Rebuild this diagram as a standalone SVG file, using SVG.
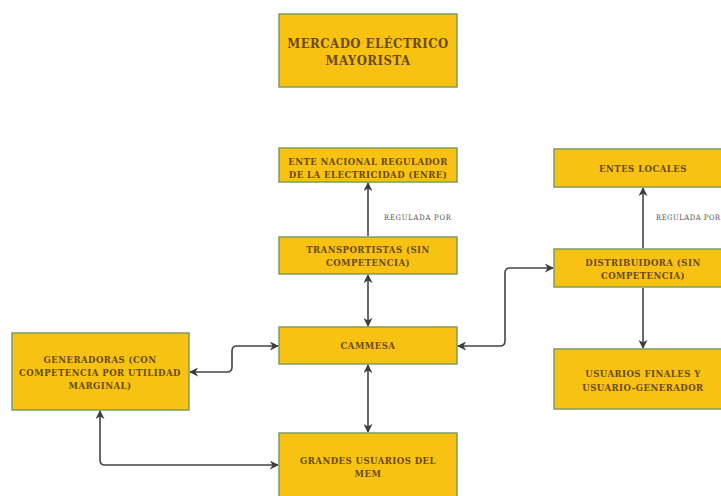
<svg xmlns="http://www.w3.org/2000/svg" width="721" height="496" viewBox="0 0 721 496">
<defs>
<marker id="ah" viewBox="0 0 10 10" refX="9" refY="5" markerWidth="9" markerHeight="9" markerUnits="userSpaceOnUse" orient="auto-start-reverse">
<path d="M0,0 L10,5 L0,10 L3,5 z" fill="#3d3d3d"/>
</marker>
<style>
.box{fill:#f7c212;stroke:#7d9c5c;stroke-width:1.5}
.t{font-family:"DejaVu Serif Condensed","DejaVu Serif",serif;font-weight:bold;fill:#6b4a16;text-anchor:middle;font-size:9.5px;letter-spacing:0.45px}
.tt{font-size:13px;letter-spacing:0.5px}
.c{fill:none;stroke:#444;stroke-width:1.6;marker-end:url(#ah)}
.b{marker-start:url(#ah)}
.lbl{font-family:"DejaVu Serif Condensed","DejaVu Serif",serif;fill:#555;font-size:7.5px;letter-spacing:0.8px}
</style>
</defs>
<rect width="721" height="496" fill="#ffffff"/>
<g id="connectors">
<path class="c" d="M368,236 V183"/>
<path class="c b" d="M368,275 V326"/>
<path class="c b" d="M368,365 V432"/>
<path class="c b" d="M190,372 H227 Q232,372 232,367 V351 Q232,346 237,346 H278"/>
<path class="c b" d="M100,411 V460 Q100,465 105,465 H278"/>
<path class="c b" d="M458,346 H500 Q505,346 505,341 V273 Q505,268 510,268 H553"/>
<path class="c" d="M643,248 V188"/>
<path class="c" d="M643,288 V348"/>
<text class="lbl" x="384" y="220">REGULADA POR</text>
<text class="lbl" x="656" y="220" style="letter-spacing:0.55px">REGULADA POR</text>
</g>
<g id="mercado">
<rect class="box" x="279" y="14" width="178" height="73"/>
<text class="t tt" x="368" y="48">MERCADO ELÉCTRICO</text>
<text class="t tt" x="368" y="65">MAYORISTA</text>
</g>
<g id="enre">
<rect class="box" x="279" y="148" width="178" height="34"/>
<text class="t" x="368" y="165">ENTE NACIONAL REGULADOR</text>
<text class="t" x="368" y="178">DE LA ELECTRICIDAD (ENRE)</text>
</g>
<g id="transportistas">
<rect class="box" x="279" y="237" width="178" height="37"/>
<text class="t" x="368" y="253">TRANSPORTISTAS (SIN</text>
<text class="t" x="368" y="266">COMPETENCIA)</text>
</g>
<g id="entes">
<rect class="box" x="554" y="149" width="178" height="38"/>
<text class="t" x="643" y="172">ENTES LOCALES</text>
</g>
<g id="distribuidora">
<rect class="box" x="554" y="249" width="178" height="38"/>
<text class="t" x="643" y="266">DISTRIBUIDORA (SIN</text>
<text class="t" x="643" y="279">COMPETENCIA)</text>
</g>
<g id="generadoras">
<rect class="box" x="12" y="333" width="177" height="77"/>
<text class="t" x="100" y="363">GENERADORAS (CON</text>
<text class="t" x="100" y="376">COMPETENCIA POR UTILIDAD</text>
<text class="t" x="100" y="389">MARGINAL)</text>
</g>
<g id="cammesa">
<rect class="box" x="279" y="327" width="178" height="37"/>
<text class="t" x="368" y="349">CAMMESA</text>
</g>
<g id="grandes">
<rect class="box" x="279" y="433" width="178" height="66"/>
<text class="t" x="368" y="464">GRANDES USUARIOS DEL</text>
<text class="t" x="368" y="477">MEM</text>
</g>
<g id="usuarios">
<rect class="box" x="554" y="349" width="178" height="60"/>
<text class="t" x="643" y="377">USUARIOS FINALES Y</text>
<text class="t" x="643" y="391">USUARIO-GENERADOR</text>
</g>
</svg>
